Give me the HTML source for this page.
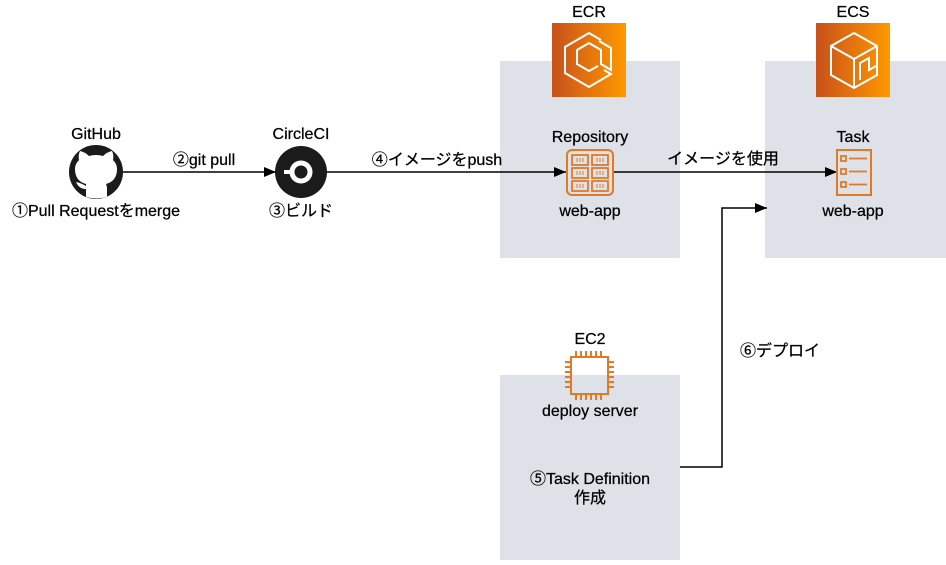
<!DOCTYPE html>
<html><head><meta charset="utf-8"><style>
body{margin:0;background:#fff}
svg text{font-family:"Liberation Sans","Noto Sans CJK JP",sans-serif;font-size:16px;fill:#000;stroke:#000;stroke-width:0.25}
.c{font-family:"Noto Sans CJK JP",sans-serif}
</style></head><body>
<svg width="946" height="560" viewBox="0 0 946 560" xmlns="http://www.w3.org/2000/svg">
<defs>
<linearGradient id="og" x1="0" x2="1" y1="0" y2="0"><stop offset="0" stop-color="#c8511b"/><stop offset="1" stop-color="#ff9900"/></linearGradient>
<marker id="ar" viewBox="0 0 12 12" refX="12" refY="6" markerWidth="12" markerHeight="12" markerUnits="userSpaceOnUse" orient="auto"><path d="M0,1 L12,6 L0,11 z" fill="#000"/></marker>
</defs>
<rect x="500" y="61" width="180" height="197" fill="#dfe1e8"/>
<rect x="765" y="61" width="181" height="197" fill="#dfe1e8"/>
<rect x="500" y="375" width="180" height="185" fill="#dfe1e8"/>

<!-- ECR icon -->
<rect x="552" y="23" width="74" height="74" fill="url(#og)"/>
<g fill="none" stroke="#fff" stroke-width="2" stroke-linejoin="miter">
<path d="M601,40 L589,33 L565,47 L565,73 L589,87 L611,74 L604,70"/>
<path d="M589,43 L577,50 L577,64 L589,71 L598,66"/>
<path d="M589,43 L601,50 L601,64 L611,70 L611,48 L599,41"/>
</g>
<!-- ECS icon -->
<rect x="816" y="23" width="74" height="74" fill="url(#og)"/>
<g fill="none" stroke="#fff" stroke-width="2">
<path d="M854,33 L877,46 L877,75 L854,88 L831,75 L831,46 Z"/>
<path d="M854,88 L854,59 L877,46 M854,59 L831,46"/>
<path d="M860,80 L860,63 L869,58 L869,70 L876,66"/>
</g>
<text x="589" y="17" text-anchor="middle">ECR</text>
<text x="853" y="17" text-anchor="middle">ECS</text>

<!-- GitHub -->
<text x="96" y="139" text-anchor="middle">GitHub</text>
<circle cx="96" cy="172" r="27" fill="#1b1b1b"/>
<path d="M86,197 L86,189 Q79,189 76,182 Q81,183 86,186 L86,184 Q75,181 75,169 Q75,164 79,160 Q78,155 80,151 Q85,152 89,156 Q96,154 103,156 Q107,152 112,151 Q114,155 113,160 Q117,164 117,169 Q117,181 106,184 Q107,186 107,189 L107,197 Q96,200 86,197 Z" fill="#fff"/>
<text x="96" y="216" text-anchor="middle"><tspan class="c">①</tspan>Pull Requestをmerge</text>

<!-- CircleCI -->
<text x="301" y="139" text-anchor="middle">CircleCI</text>
<circle cx="301" cy="172" r="26" fill="#1b1b1b"/>
<circle cx="301" cy="172" r="9" fill="none" stroke="#fff" stroke-width="5"/>
<rect x="284" y="170" width="9" height="4" fill="#fff"/>
<text x="301" y="216" text-anchor="middle"><tspan class="c">③</tspan>ビルド</text>

<!-- connectors -->
<line x1="123" y1="172" x2="276" y2="172" stroke="#000" stroke-width="1.5" marker-end="url(#ar)"/>
<text x="204" y="165" text-anchor="middle"><tspan class="c">②</tspan>git pull</text>
<line x1="327" y1="172" x2="566" y2="172" stroke="#000" stroke-width="1.5" marker-end="url(#ar)"/>
<text x="437" y="165" text-anchor="middle"><tspan class="c">④</tspan>イメージをpush</text>
<line x1="614" y1="172" x2="837" y2="172" stroke="#000" stroke-width="1.5" marker-end="url(#ar)"/>
<text x="723" y="164" text-anchor="middle">イメージを使用</text>
<path d="M680,467 L722,467 L722,208 L767,208" fill="none" stroke="#000" stroke-width="1.5" marker-end="url(#ar)"/>
<text x="780" y="356" text-anchor="middle"><tspan class="c">⑥</tspan>デプロイ</text>

<!-- Repository -->
<text x="590" y="142" text-anchor="middle">Repository</text>
<rect x="567" y="150" width="46" height="45" rx="5" fill="none" stroke="#e07a26" stroke-width="2"/>
<g fill="none" stroke="#e07a26" stroke-width="1.8">
<rect x="572" y="155" width="16" height="10"/><rect x="592" y="155" width="16" height="10"/>
<rect x="572" y="168" width="16" height="10"/><rect x="592" y="168" width="16" height="10"/>
<rect x="572" y="181" width="16" height="10"/><rect x="592" y="181" width="16" height="10"/>
</g>
<g stroke="#e07a26" stroke-width="1"><path d="M577,158v4M580,158v4M583,158v4M597,158v4M600,158v4M603,158v4M577,171v4M580,171v4M583,171v4M597,171v4M600,171v4M603,171v4M577,184v4M580,184v4M583,184v4M597,184v4M600,184v4M603,184v4"/></g>
<text x="590" y="216" text-anchor="middle">web-app</text>

<!-- Task -->
<text x="853" y="142" text-anchor="middle">Task</text>
<rect x="837" y="150" width="34" height="45" fill="none" stroke="#e07a26" stroke-width="2"/>
<g fill="none" stroke="#e07a26" stroke-width="1.8">
<rect x="841" y="156" width="5" height="5"/><rect x="841" y="169" width="5" height="5"/><rect x="841" y="182" width="5" height="5"/>
<line x1="849" y1="158.5" x2="867" y2="158.5"/><line x1="849" y1="171.5" x2="867" y2="171.5"/><line x1="849" y1="184.5" x2="867" y2="184.5"/>
</g>
<text x="853" y="216" text-anchor="middle">web-app</text>

<!-- EC2 -->
<text x="590" y="344" text-anchor="middle">EC2</text>
<g stroke="#e07a26" stroke-width="2" fill="none">
<rect x="571" y="357" width="37" height="37"/>
<path d="M576,351v6M581,351v6M586,351v6M591,351v6M596,351v6M601,351v6M576,394v6M581,394v6M586,394v6M591,394v6M596,394v6M601,394v6M565,362h6M565,367h6M565,372h6M565,377h6M565,382h6M565,387h6M608,362h6M608,367h6M608,372h6M608,377h6M608,382h6M608,387h6"/>
</g>
<text x="590" y="416" text-anchor="middle">deploy server</text>
<text x="590" y="484" text-anchor="middle"><tspan class="c">⑤</tspan>Task Definition</text>
<text x="590" y="503" text-anchor="middle">作成</text>
</svg>
</body></html>
